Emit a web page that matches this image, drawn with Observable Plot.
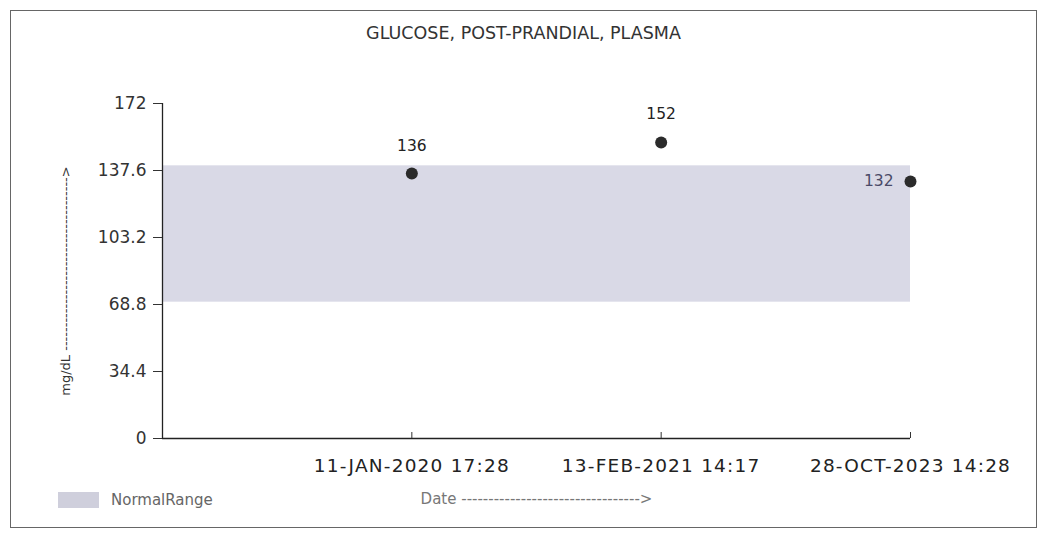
<!DOCTYPE html>
<html><head><meta charset="utf-8">
<script src="https://cdn.jsdelivr.net/npm/d3@7"></script>
<script src="https://cdn.jsdelivr.net/npm/@observablehq/plot@0.6"></script>
<style>
body{margin:0;background:#fff;font-family:"DejaVu Sans",sans-serif;}
#frame{position:absolute;left:10px;top:10px;width:1025px;height:516px;border:1px solid #666;background:#fff;}
#chart{position:absolute;left:0;top:0;}
#title{position:absolute;left:0;width:100%;top:12px;text-align:center;font-size:17.5px;color:#333;}
#legend{position:absolute;left:47px;top:480px;display:flex;align-items:center;font-size:15px;color:#666;}
#legend .sw{width:41px;height:16px;background:#cfcfdc;margin-right:12px;}
#chart g[aria-label="x-axis tick label"] text{letter-spacing:1.2px;}
</style></head>
<body>
<div id="frame">
  <div id="chart"></div>
  <div id="title"></div>
  <div id="legend"><div class="sw"></div><span id="legendText"></span></div>
</div>
<script>
const chartTitle = "GLUCOSE, POST-PRANDIAL, PLASMA";
const dates = ["11-JAN-2020 17:28", "13-FEB-2021 14:17", "28-OCT-2023 14:28"];
const values = [136, 152, 132];
const yTicks = [0, 34.4, 68.8, 103.2, 137.6, 172];
const normalLow = 70;
const normalHigh = 140;
const yLabel = "mg/dL ------------------------------------->";
const xLabel = "Date --------------------------------->";
const legendLabel = "NormalRange";

document.getElementById("title").textContent = chartTitle;
document.getElementById("legendText").textContent = legendLabel;

const rows = dates.map((d, i) => ({pos: i + 1, date: d, value: values[i], last: i === dates.length - 1}));
const xTicks = rows.map(r => r.pos);
const band = [{x1: 0, x2: dates.length, y1: normalLow, y2: normalHigh}];
const font = "'DejaVu Sans', sans-serif";

const chart = Plot.plot({
  width: 1025,
  height: 516,
  marginLeft: 151,
  marginRight: 126,
  marginTop: 92,
  marginBottom: 89,
  style: {background: "transparent", overflow: "visible", fontFamily: font},
  x: {domain: [0, dates.length]},
  y: {domain: [0, yTicks[yTicks.length - 1]]},
  marks: [
    Plot.rect(band, {x1: "x1", x2: "x2", y1: "y1", y2: "y2", fill: "#d9d9e6"}),
    Plot.ruleY([0], {stroke: "#222", strokeWidth: 1.3}),
    Plot.ruleX([0], {stroke: "#222", strokeWidth: 1.3}),
    Plot.axisY({ticks: yTicks, tickSize: 9, tickPadding: 7, tickFormat: d => String(d), fontSize: 17, color: "#333", label: null}),
    Plot.axisX({ticks: xTicks, tickSize: 6, dy: -6, tickFormat: () => "", label: null, color: "#333"}),
    Plot.axisX({ticks: xTicks, tickSize: 0, tickPadding: 20, tickFormat: i => dates[i - 1], fontSize: 18.5, color: "#222", label: null}),
    Plot.dot(rows, {x: "pos", y: "value", r: 6, fill: "#2b2b2b"}),
    Plot.text(rows.filter(r => !r.last), {x: "pos", y: "value", text: d => String(d.value), dy: -28, fontSize: 15.5, fill: "#222"}),
    Plot.text(rows.filter(r => r.last), {x: "pos", y: "value", text: d => String(d.value), dx: -17, textAnchor: "end", fontSize: 15.5, fill: "#4a4a68"}),
    Plot.text([yLabel], {frameAnchor: "left", dx: -97, dy: 10, rotate: -90, textAnchor: "middle", text: d => d, fontSize: 13, fill: "#333"}),
    Plot.text([xLabel], {frameAnchor: "bottom", dy: 65, text: d => d, fontSize: 15, fill: "#777"})
  ]
});
document.getElementById("chart").appendChild(chart);
</script>
</body></html>
